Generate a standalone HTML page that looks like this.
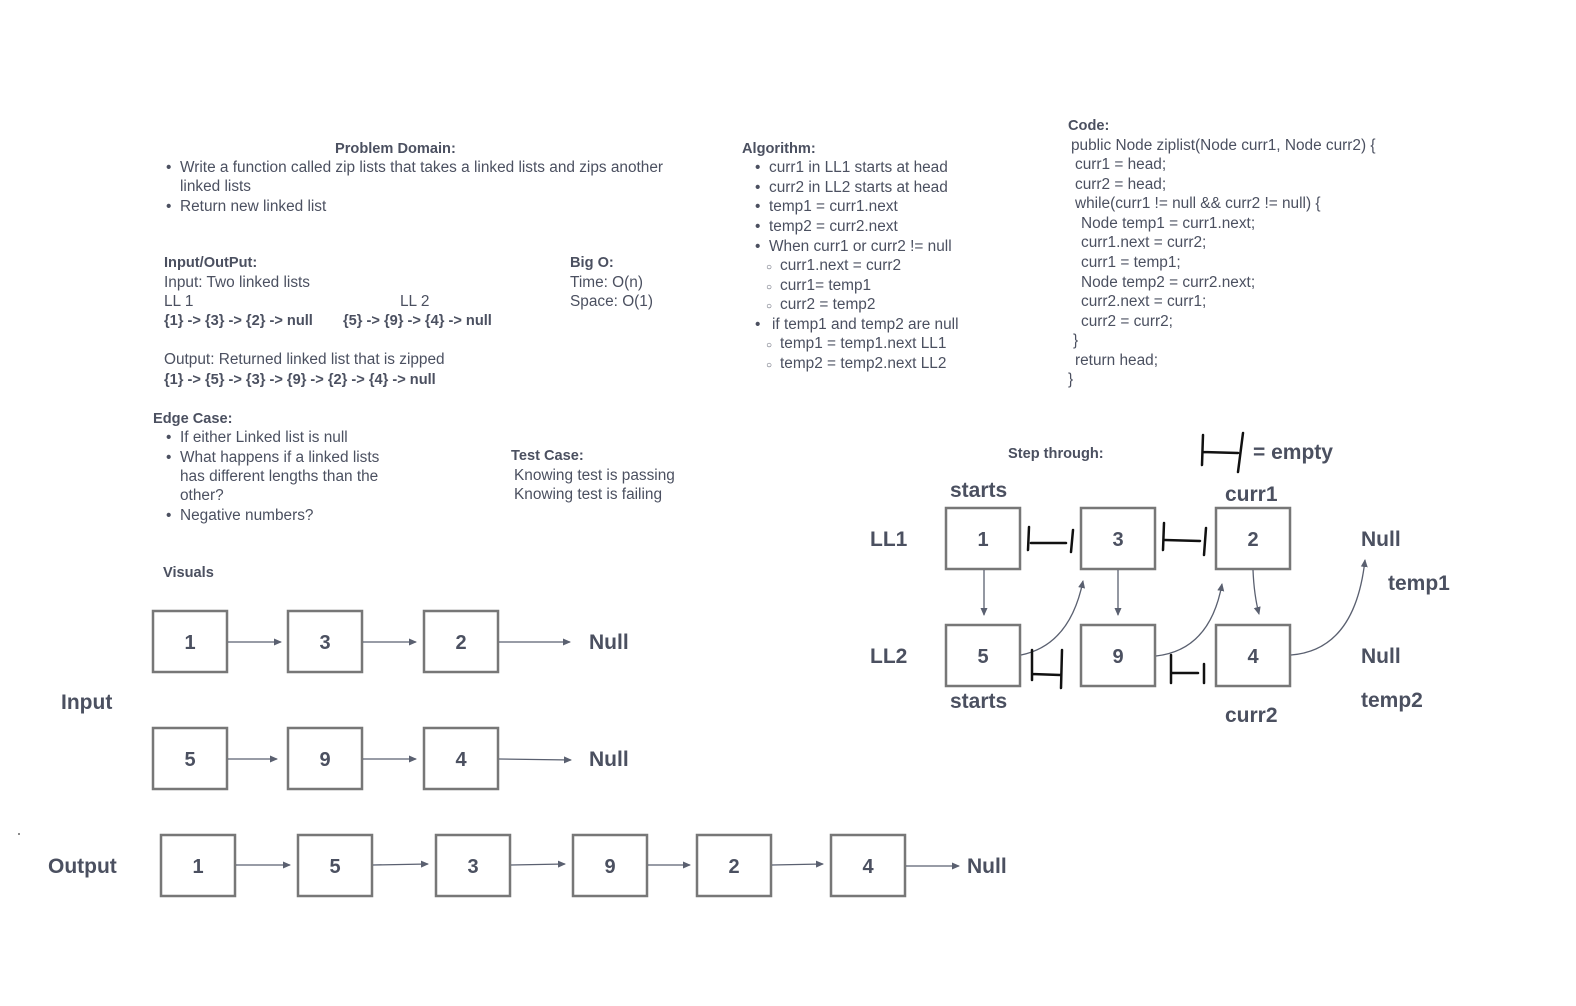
<!DOCTYPE html>
<html><head><meta charset="utf-8"><style>
html,body{margin:0;padding:0;background:#fff;}
svg{display:block;}
text{font-family:"Liberation Sans",sans-serif;fill:#4b5060;}
.t{font-size:15.4px;}
.b{font-size:14.6px;font-weight:bold;}
.L{font-size:21px;font-weight:bold;}
.n{font-size:20px;font-weight:bold;text-anchor:middle;}
.box{fill:#fff;stroke:#777;stroke-width:2.5;}
.ar{stroke:#5a6070;stroke-width:1.3;fill:none;}
.hd{stroke:#111;stroke-width:2.5;fill:none;stroke-linecap:round;}
</style></head><body>
<svg width="1576" height="1006" viewBox="0 0 1576 1006" xmlns="http://www.w3.org/2000/svg">
<defs><marker id="a" markerWidth="8" markerHeight="8" refX="7" refY="4" orient="auto" markerUnits="userSpaceOnUse"><path d="M0,0.5 L8,4 L0,7.5z" fill="#5a6070"/></marker></defs>

<text class="b" x="335" y="153">Problem Domain:</text>
<text class="t" x="166" y="172">•</text><text class="t" x="180" y="172">Write a function called zip lists that takes a linked lists and zips another</text>
<text class="t" x="180" y="191">linked lists</text>
<text class="t" x="166" y="211">•</text><text class="t" x="180" y="211">Return new linked list</text>

<text class="b" x="164" y="267">Input/OutPut:</text>
<text class="t" x="164" y="287">Input: Two linked lists</text>
<text class="t" x="164" y="306">LL 1</text><text class="t" x="400" y="306">LL 2</text>
<text class="b" x="164" y="325">{1} -&gt; {3} -&gt; {2} -&gt; null</text>
<text class="b" x="343" y="325">{5} -&gt; {9} -&gt; {4} -&gt; null</text>
<text class="t" x="164" y="364">Output: Returned  linked list that is zipped</text>
<text class="b" x="164" y="384">{1} -&gt; {5} -&gt; {3} -&gt; {9} -&gt; {2} -&gt; {4} -&gt; null</text>

<text class="b" x="570" y="267">Big O:</text>
<text class="t" x="570" y="287">Time: O(n)</text>
<text class="t" x="570" y="306">Space: O(1)</text>

<text class="b" x="153" y="423">Edge Case:</text>
<text class="t" x="166" y="442">•</text><text class="t" x="180" y="442">If either Linked list is null</text>
<text class="t" x="166" y="462">•</text><text class="t" x="180" y="462">What happens if a linked lists</text>
<text class="t" x="180" y="481">has different lengths than the</text>
<text class="t" x="180" y="500">other?</text>
<text class="t" x="166" y="520">•</text><text class="t" x="180" y="520">Negative numbers?</text>

<text class="b" x="511" y="460">Test Case:</text>
<text class="t" x="514" y="480">Knowing test is passing</text>
<text class="t" x="514" y="499">Knowing test is failing</text>

<text class="b" x="163" y="577">Visuals</text>

<text class="b" x="742" y="153">Algorithm:</text>
<text class="t" x="755" y="172">•</text><text class="t" x="769" y="172">curr1 in LL1 starts at head</text>
<text class="t" x="755" y="192">•</text><text class="t" x="769" y="192">curr2 in LL2 starts at head</text>
<text class="t" x="755" y="211">•</text><text class="t" x="769" y="211">temp1 = curr1.next</text>
<text class="t" x="755" y="231">•</text><text class="t" x="769" y="231">temp2 = curr2.next</text>
<text class="t" x="755" y="251">•</text><text class="t" x="769" y="251">When curr1 or curr2 != null</text>
<text class="t" x="766" y="270" style="font-size:10px">○</text><text class="t" x="780" y="270">curr1.next = curr2</text>
<text class="t" x="766" y="290" style="font-size:10px">○</text><text class="t" x="780" y="290">curr1= temp1</text>
<text class="t" x="766" y="309" style="font-size:10px">○</text><text class="t" x="780" y="309">curr2 = temp2</text>
<text class="t" x="755" y="329">•</text><text class="t" x="772" y="329">if temp1 and temp2 are null</text>
<text class="t" x="766" y="348" style="font-size:10px">○</text><text class="t" x="780" y="348">temp1 = temp1.next LL1</text>
<text class="t" x="766" y="368" style="font-size:10px">○</text><text class="t" x="780" y="368">temp2 = temp2.next LL2</text>

<text class="b" x="1068" y="130">Code:</text>
<text class="t" x="1071" y="150">public Node ziplist(Node curr1, Node curr2) {</text>
<text class="t" x="1075" y="169">curr1 = head;</text>
<text class="t" x="1075" y="189">curr2 = head;</text>
<text class="t" x="1075" y="208">while(curr1 != null &amp;&amp; curr2 != null) {</text>
<text class="t" x="1081" y="228">Node temp1 = curr1.next;</text>
<text class="t" x="1081" y="247">curr1.next = curr2;</text>
<text class="t" x="1081" y="267">curr1 = temp1;</text>
<text class="t" x="1081" y="287">Node temp2 = curr2.next;</text>
<text class="t" x="1081" y="306">curr2.next = curr1;</text>
<text class="t" x="1081" y="326">curr2 = curr2;</text>
<text class="t" x="1073" y="345">}</text>
<text class="t" x="1075" y="365">return head;</text>
<text class="t" x="1068" y="384">}</text>

<text class="L" x="61" y="709">Input</text>
<rect class="box" x="153" y="611" width="74" height="61"/><text class="n" x="190" y="649">1</text>
<rect class="box" x="288" y="611" width="74" height="61"/><text class="n" x="325" y="649">3</text>
<rect class="box" x="424" y="611" width="74" height="61"/><text class="n" x="461" y="649">2</text>
<line class="ar" x1="228" y1="642" x2="281" y2="642" marker-end="url(#a)"/>
<line class="ar" x1="363" y1="642" x2="416" y2="642" marker-end="url(#a)"/>
<line class="ar" x1="499" y1="642" x2="570" y2="642" marker-end="url(#a)"/>
<text class="L" x="589" y="649">Null</text>

<rect class="box" x="153" y="728" width="74" height="61"/><text class="n" x="190" y="766">5</text>
<rect class="box" x="288" y="728" width="74" height="61"/><text class="n" x="325" y="766">9</text>
<rect class="box" x="424" y="728" width="74" height="61"/><text class="n" x="461" y="766">4</text>
<line class="ar" x1="228" y1="759" x2="277" y2="759" marker-end="url(#a)"/>
<line class="ar" x1="363" y1="759" x2="416" y2="759" marker-end="url(#a)"/>
<line class="ar" x1="499" y1="759" x2="571" y2="760" marker-end="url(#a)"/>
<text class="L" x="589" y="766">Null</text>

<circle cx="19" cy="834" r="1" fill="#666"/>
<text class="L" x="48" y="873">Output</text>
<rect class="box" x="161" y="835" width="74" height="61"/><text class="n" x="198" y="873">1</text>
<rect class="box" x="298" y="835" width="74" height="61"/><text class="n" x="335" y="873">5</text>
<rect class="box" x="436" y="835" width="74" height="61"/><text class="n" x="473" y="873">3</text>
<rect class="box" x="573" y="835" width="74" height="61"/><text class="n" x="610" y="873">9</text>
<rect class="box" x="697" y="835" width="74" height="61"/><text class="n" x="734" y="873">2</text>
<rect class="box" x="831" y="835" width="74" height="61"/><text class="n" x="868" y="873">4</text>
<line class="ar" x1="236" y1="865" x2="290" y2="865" marker-end="url(#a)"/>
<line class="ar" x1="373" y1="865" x2="428" y2="864" marker-end="url(#a)"/>
<line class="ar" x1="511" y1="865" x2="565" y2="864" marker-end="url(#a)"/>
<line class="ar" x1="648" y1="865" x2="690" y2="865" marker-end="url(#a)"/>
<line class="ar" x1="772" y1="865" x2="823" y2="864" marker-end="url(#a)"/>
<line class="ar" x1="906" y1="866" x2="959" y2="866" marker-end="url(#a)"/>
<text class="L" x="967" y="873">Null</text>

<text class="b" x="1008" y="458">Step through:</text>
<path class="hd" d="M1203,435 L1202,465 M1203,452 L1238,453 M1243,433 L1238,472"/>
<text class="L" x="1253" y="459">= empty</text>

<text class="L" x="950" y="497">starts</text>
<text class="L" x="1225" y="501">curr1</text>
<text class="L" x="870" y="546">LL1</text>
<text class="L" x="870" y="663">LL2</text>
<text class="L" x="950" y="708">starts</text>
<text class="L" x="1225" y="722">curr2</text>
<text class="L" x="1361" y="546">Null</text>
<text class="L" x="1388" y="590">temp1</text>
<text class="L" x="1361" y="663">Null</text>
<text class="L" x="1361" y="707">temp2</text>

<rect class="box" x="946" y="508" width="74" height="61"/><text class="n" x="983" y="546">1</text>
<rect class="box" x="1081" y="508" width="74" height="61"/><text class="n" x="1118" y="546">3</text>
<rect class="box" x="1216" y="508" width="74" height="61"/><text class="n" x="1253" y="546">2</text>
<rect class="box" x="946" y="625" width="74" height="61"/><text class="n" x="983" y="663">5</text>
<rect class="box" x="1081" y="625" width="74" height="61"/><text class="n" x="1118" y="663">9</text>
<rect class="box" x="1216" y="625" width="74" height="61"/><text class="n" x="1253" y="663">4</text>

<line class="ar" x1="984" y1="570" x2="984" y2="615" marker-end="url(#a)"/>
<line class="ar" x1="1118" y1="570" x2="1118" y2="615" marker-end="url(#a)"/>
<path class="ar" d="M1253,570 Q1254,595 1259,614" marker-end="url(#a)"/>
<path class="ar" d="M1021,655 Q1070,645 1083,581" marker-end="url(#a)"/>
<path class="ar" d="M1156,656 Q1210,650 1222,584" marker-end="url(#a)"/>
<path class="ar" d="M1291,655 Q1355,650 1365,560" marker-end="url(#a)"/>

<path class="hd" d="M1029,527 L1028,550 M1031,543 L1066,543 M1073,530 L1071,552"/>
<path class="hd" d="M1164,523 L1163,550 M1165,540 L1200,541 M1206,528 L1204,555"/>
<path class="hd" d="M1032,650 L1032,680 M1032,674 L1060,675 M1062,650 L1061,688"/>
<path class="hd" d="M1171,655 L1171,683 M1172,673 L1198,673 M1204,664 L1204,683"/>
</svg>
</body></html>
